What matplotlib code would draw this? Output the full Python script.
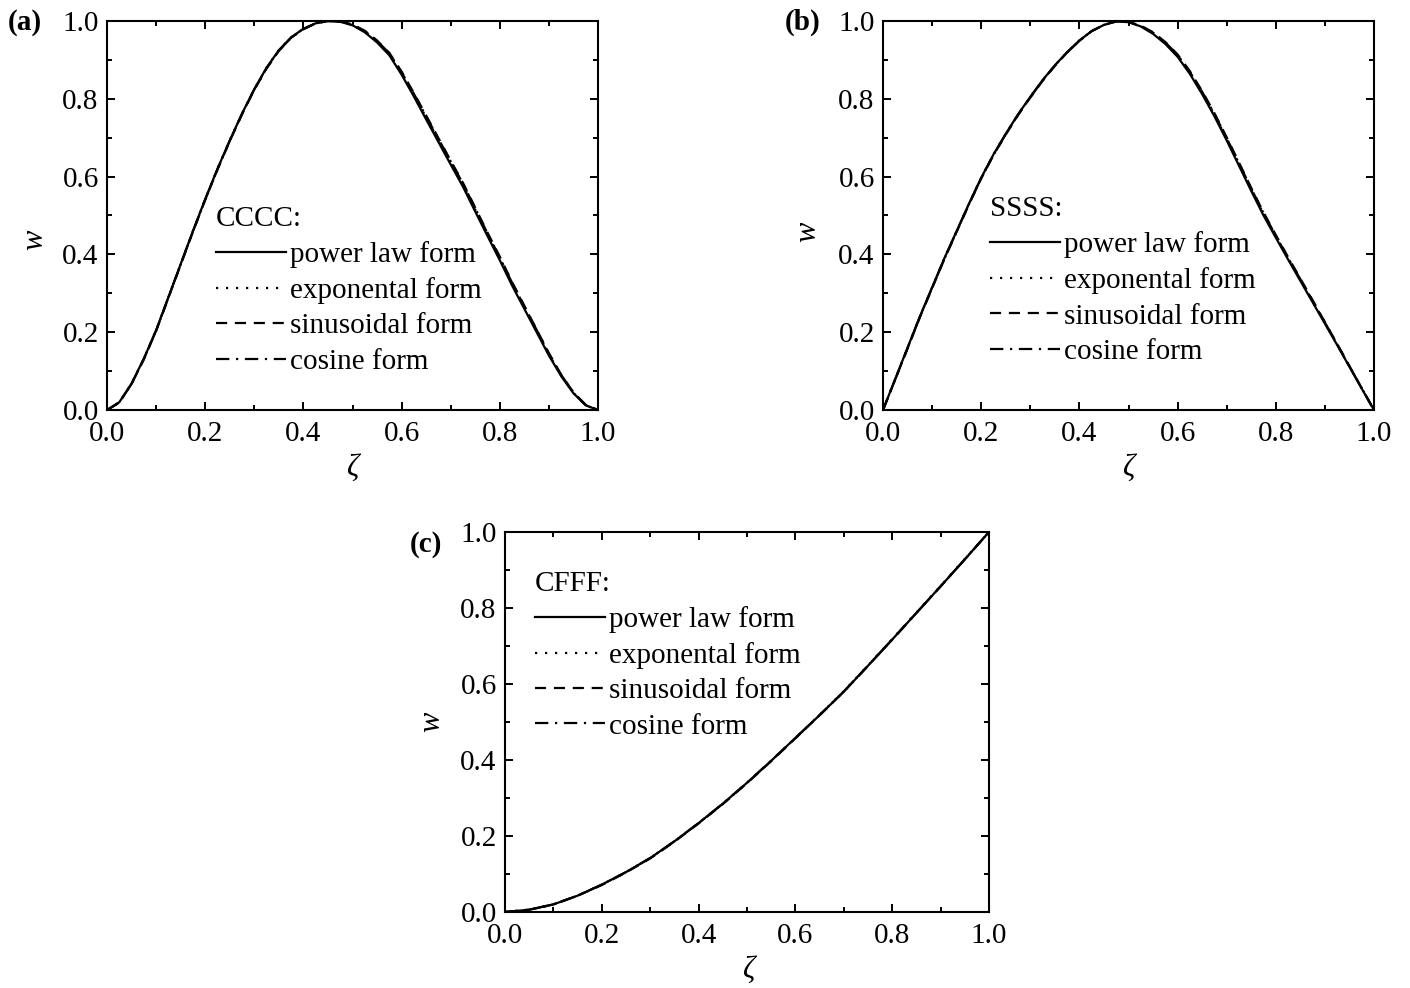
import matplotlib
matplotlib.use("Agg")
import matplotlib.pyplot as plt
from matplotlib.ticker import MultipleLocator

plt.rcParams['font.family'] = ['Liberation Serif', 'DejaVu Serif']

# ---------------- data ----------------
zeta = [0.000, 0.025, 0.050, 0.075, 0.100, 0.125, 0.150, 0.175, 0.200, 0.225,
        0.250, 0.275, 0.300, 0.325, 0.350, 0.375, 0.400, 0.425, 0.450, 0.475,
        0.500, 0.525, 0.550, 0.575, 0.600, 0.625, 0.650, 0.675, 0.700, 0.725,
        0.750, 0.775, 0.800, 0.825, 0.850, 0.875, 0.900, 0.925, 0.950, 0.975, 1.000]

# (a) CCCC
a_power = [0, 0.020, 0.068, 0.132, 0.205, 0.290, 0.375, 0.460, 0.542, 0.620,
           0.693, 0.762, 0.825, 0.880, 0.925, 0.958, 0.980, 0.994, 1.000, 0.998,
           0.989, 0.971, 0.945, 0.912, 0.862, 0.806, 0.747, 0.689, 0.631, 0.574,
           0.510, 0.447, 0.385, 0.320, 0.260, 0.200, 0.140, 0.087, 0.043, 0.012, 0]
a_expo = [0, 0.020, 0.068, 0.132, 0.205, 0.290, 0.375, 0.460, 0.542, 0.620,
          0.693, 0.762, 0.825, 0.880, 0.925, 0.958, 0.980, 0.994, 1.000, 0.998,
          0.990, 0.973, 0.948, 0.915, 0.866, 0.810, 0.752, 0.694, 0.636, 0.579,
          0.515, 0.452, 0.390, 0.325, 0.264, 0.204, 0.143, 0.089, 0.044, 0.012, 0]
a_sin = [0, 0.019, 0.067, 0.130, 0.203, 0.288, 0.373, 0.458, 0.540, 0.618,
         0.691, 0.760, 0.823, 0.878, 0.923, 0.957, 0.979, 0.994, 1.000, 0.999,
         0.991, 0.975, 0.950, 0.918, 0.870, 0.815, 0.757, 0.699, 0.641, 0.584,
         0.520, 0.456, 0.394, 0.329, 0.268, 0.207, 0.146, 0.091, 0.045, 0.013, 0]
a_cos = [0, 0.019, 0.067, 0.131, 0.204, 0.289, 0.374, 0.459, 0.541, 0.619,
         0.692, 0.761, 0.824, 0.879, 0.924, 0.957, 0.979, 0.994, 1.000, 0.999,
         0.990, 0.974, 0.949, 0.917, 0.868, 0.813, 0.755, 0.697, 0.639, 0.582,
         0.518, 0.454, 0.392, 0.327, 0.266, 0.206, 0.145, 0.090, 0.045, 0.013, 0]

# (b) SSSS
b_power = [0, 0.080, 0.160, 0.240, 0.315, 0.390, 0.460, 0.530, 0.597, 0.657,
           0.710, 0.760, 0.805, 0.848, 0.886, 0.920, 0.950, 0.974, 0.990, 0.999,
           0.997, 0.986, 0.967, 0.941, 0.908, 0.864, 0.812, 0.755, 0.693, 0.628,
           0.563, 0.500, 0.443, 0.387, 0.332, 0.277, 0.222, 0.167, 0.111, 0.055, 0]
b_expo = [0, 0.080, 0.160, 0.240, 0.315, 0.390, 0.460, 0.530, 0.597, 0.657,
          0.710, 0.760, 0.805, 0.848, 0.886, 0.920, 0.950, 0.974, 0.990, 0.999,
          0.997, 0.987, 0.969, 0.944, 0.911, 0.867, 0.816, 0.759, 0.697, 0.632,
          0.567, 0.504, 0.446, 0.390, 0.335, 0.279, 0.224, 0.168, 0.112, 0.056, 0]
b_sin = [0, 0.079, 0.158, 0.238, 0.313, 0.388, 0.458, 0.528, 0.595, 0.655,
         0.708, 0.758, 0.803, 0.846, 0.885, 0.919, 0.949, 0.974, 0.990, 0.999,
         0.998, 0.988, 0.971, 0.946, 0.914, 0.871, 0.820, 0.763, 0.701, 0.636,
         0.571, 0.508, 0.450, 0.393, 0.338, 0.282, 0.226, 0.170, 0.113, 0.056, 0]
b_cos = [0, 0.079, 0.159, 0.239, 0.314, 0.389, 0.459, 0.529, 0.596, 0.656,
         0.709, 0.759, 0.804, 0.847, 0.885, 0.919, 0.949, 0.974, 0.990, 0.999,
         0.998, 0.987, 0.970, 0.945, 0.913, 0.869, 0.818, 0.761, 0.699, 0.634,
         0.569, 0.506, 0.448, 0.391, 0.336, 0.281, 0.225, 0.169, 0.112, 0.056, 0]

# (c) CFFF
zeta_c = [0.00, 0.05, 0.10, 0.15, 0.20, 0.25, 0.30, 0.35, 0.40, 0.45, 0.50,
          0.55, 0.60, 0.65, 0.70, 0.75, 0.80, 0.85, 0.90, 0.95, 1.00]
c_power = [0, 0.006, 0.020, 0.043, 0.072, 0.105, 0.142, 0.186, 0.234, 0.285, 0.340,
           0.398, 0.458, 0.518, 0.580, 0.648, 0.717, 0.787, 0.857, 0.928, 1.000]
c_expo = [0, 0.006, 0.020, 0.043, 0.072, 0.105, 0.142, 0.186, 0.234, 0.285, 0.340,
          0.398, 0.458, 0.519, 0.581, 0.649, 0.718, 0.788, 0.858, 0.929, 1.000]
c_sin = [0, 0.006, 0.020, 0.043, 0.071, 0.104, 0.141, 0.185, 0.233, 0.284, 0.339,
         0.397, 0.457, 0.518, 0.580, 0.648, 0.717, 0.787, 0.857, 0.928, 1.000]
c_cos = [0, 0.006, 0.020, 0.043, 0.072, 0.105, 0.142, 0.186, 0.234, 0.285, 0.340,
         0.398, 0.458, 0.518, 0.580, 0.648, 0.717, 0.787, 0.857, 0.928, 1.000]

series_labels = ['power law form', 'exponental form', 'sinusoidal form', 'cosine form']
tick_vals = [0.0, 0.2, 0.4, 0.6, 0.8, 1.0]
tick_labels = ['0.0', '0.2', '0.4', '0.6', '0.8', '1.0']

panels = [
    dict(tag='(a)', title='CCCC:', x=zeta, ys=[a_power, a_expo, a_sin, a_cos]),
    dict(tag='(b)', title='SSSS:', x=zeta, ys=[b_power, b_expo, b_sin, b_cos]),
    dict(tag='(c)', title='CFFF:', x=zeta_c, ys=[c_power, c_expo, c_sin, c_cos]),
]

# ---------------- figure ----------------
W, H = 1410, 988
fig = plt.figure(figsize=(W / 100, H / 100), dpi=100)

def box(l, t, r, b):
    return [l / W, 1 - b / H, (r - l) / W, (b - t) / H]

rects = [box(107, 21, 598, 410), box(883, 21, 1374, 410), box(505, 532, 989, 912)]
leg_anchor = [(0.221, 0.525), (0.218, 0.55), (0.062, 0.898)]
tag_pos = [(8, 22), (785, 22), (410, 545)]
wlab_pos = [(35, 240), (808, 232), (432, 722)]
zlab_pos = [(352, 468), (1128, 468), (748, 970)]

styles = [
    dict(linestyle='-'),
    dict(linestyle=(0, (1, 3.5))),
    dict(linestyle=(0, (5, 3.5))),
    dict(linestyle=(0, (6, 3, 1, 3))),
]

FS = 21
for i, p in enumerate(panels):
    ax = fig.add_axes(rects[i])
    handles = []
    for y, st, lab in zip(p['ys'], styles, series_labels):
        h, = ax.plot(p['x'], y, color='black', lw=1.6, label=lab, **st)
        handles.append(h)
    ax.set_xlim(0, 1)
    ax.set_ylim(0, 1)
    ax.set_xticks(tick_vals)
    ax.set_xticklabels(tick_labels)
    ax.set_yticks(tick_vals)
    ax.set_yticklabels(tick_labels)
    ax.xaxis.set_minor_locator(MultipleLocator(0.1))
    ax.yaxis.set_minor_locator(MultipleLocator(0.1))
    ax.tick_params(which='both', direction='in', top=True, right=True,
                   labelsize=FS, width=1.4, color='black')
    ax.tick_params(axis='x', which='major', pad=8)
    ax.tick_params(axis='y', which='major', pad=6)
    ax.tick_params(which='major', length=6)
    ax.tick_params(which='minor', length=3.5)
    for sp in ax.spines.values():
        sp.set_linewidth(1.5)
    leg = ax.legend(handles=handles, title=p['title'], loc='upper left',
                    bbox_to_anchor=leg_anchor[i], frameon=False, fontsize=FS,
                    title_fontsize=FS, handlelength=2.4, handletextpad=0.14,
                    labelspacing=0.31, borderpad=0, borderaxespad=0)
    leg._legend_box.align = 'left'

    fig.text(tag_pos[i][0] / W, 1 - tag_pos[i][1] / H, p['tag'], fontsize=FS,
             fontweight='bold', ha='left', va='center')
    fig.text(wlab_pos[i][0] / W, 1 - wlab_pos[i][1] / H, 'w', fontsize=FS + 1,
             fontstyle='italic', rotation=90, ha='center', va='center')
    fig.text(zlab_pos[i][0] / W, 1 - zlab_pos[i][1] / H, 'ζ', fontsize=FS + 1,
             fontstyle='italic', ha='center', va='center')

fig.savefig('out.png', dpi=100)
